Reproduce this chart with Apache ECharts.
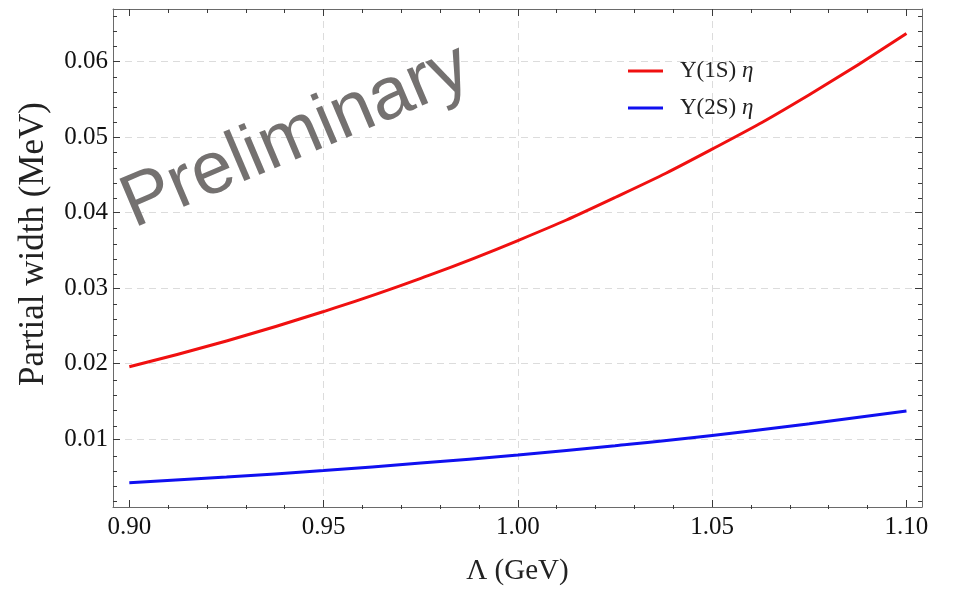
<!DOCTYPE html>
<html>
<head>
<meta charset="utf-8">
<script src="https://cdn.jsdelivr.net/npm/echarts@6/dist/echarts.min.js"></script>
<style>
  html, body { margin: 0; padding: 0; background: #fff; }
  #chart { width: 954px; height: 591px; }
</style>
</head>
<body>
<div id="chart"></div>
<script>
// Cutoff parameter Λ (GeV)
const lambdaGeV = [0.900, 0.925, 0.950, 0.975, 1.000, 1.025, 1.050, 1.075, 1.100];
// Partial widths (MeV)
const width1S = [0.0196, 0.0230, 0.0269, 0.0313, 0.0363, 0.0420, 0.0484, 0.0556, 0.0637];
const width2S = [0.00423, 0.00500, 0.00585, 0.00684, 0.00792, 0.00914, 0.01050, 0.01204, 0.01374];

const seriesNames = ['Υ(1S) η', 'Υ(2S) η'];

// Axis ticks
const xMajorTicks = [0.90, 0.95, 1.00, 1.05, 1.10];
const xMinorTicks = [0.91, 0.92, 0.93, 0.94, 0.96, 0.97, 0.98, 0.99, 1.01, 1.02, 1.03, 1.04, 1.06, 1.07, 1.08, 1.09];
const xGridLines = [0.95, 1.00, 1.05];
const yMajorTicks = [0.01, 0.02, 0.03, 0.04, 0.05, 0.06];
const yMinorTicks = [0.002, 0.004, 0.006, 0.008, 0.012, 0.014, 0.016, 0.018, 0.022, 0.024, 0.026, 0.028,
  0.032, 0.034, 0.036, 0.038, 0.042, 0.044, 0.046, 0.048, 0.052, 0.054, 0.056, 0.058, 0.062, 0.064, 0.066];

const xRange = [0.8958, 1.1040];
const yRange = [0.00103, 0.06695];

const serif = '"Liberation Serif", "DejaVu Serif", serif';
const frameColor = '#6a6a6a';
const tickColor = '#3a3a3a';
const red = '#f01010';
const blue = '#1010f0';

const plotRect = { left: 113, top: 9, right: 32, bottom: 82 };

function toPairs(xs, ys) { return xs.map((x, i) => [x, ys[i]]); }

// one layer of ticks on one side of the frame
function tickAxis(kind, gridIndex, position, values, len, extra) {
  const range = kind === 'x' ? xRange : yRange;
  return Object.assign({
    type: 'value', gridIndex, position, min: range[0], max: range[1],
    axisLine: { show: false },
    axisTick: { show: values.length > 0, inside: true, length: len, customValues: values,
      lineStyle: { color: tickColor, width: 1 } },
    axisLabel: { show: false },
    splitLine: { show: false }
  }, extra || {});
}

const chart = echarts.init(document.getElementById('chart'), null, { renderer: 'canvas' });

const option = {
  animation: false,
  backgroundColor: '#fff',
  grid: [
    Object.assign({}, plotRect),
    Object.assign({}, plotRect),
    Object.assign({}, plotRect)
  ],
  xAxis: [
    tickAxis('x', 0, 'bottom', xMajorTicks, 7, {
      axisLine: { show: true, lineStyle: { color: frameColor, width: 1 } },
      axisLabel: { show: true, customValues: xMajorTicks, margin: 8,
        formatter: v => v.toFixed(2), color: '#111', fontFamily: serif, fontSize: 25 },
      name: 'Λ (GeV)', nameLocation: 'middle', nameGap: 50,
      nameTextStyle: { fontFamily: serif, fontSize: 29, color: '#222' }
    }),
    tickAxis('x', 0, 'top', xMajorTicks, 7, {
      axisLine: { show: true, lineStyle: { color: frameColor, width: 1 } }
    }),
    tickAxis('x', 1, 'bottom', xMinorTicks, 4),
    tickAxis('x', 1, 'top', xMinorTicks, 4),
    tickAxis('x', 2, 'bottom', xGridLines, 0, {
      axisTick: { show: false, customValues: xGridLines },
      splitLine: { show: true, lineStyle: { color: '#dcdcdc', type: [7, 5], width: 1 } }
    })
  ],
  yAxis: [
    tickAxis('y', 0, 'left', yMajorTicks, 7, {
      axisLine: { show: true, lineStyle: { color: frameColor, width: 1 } },
      axisLabel: { show: true, customValues: yMajorTicks, margin: 5,
        formatter: v => v.toFixed(2), color: '#111', fontFamily: serif, fontSize: 25 },
      splitLine: { show: true, lineStyle: { color: '#dcdcdc', type: [7, 5], width: 1 } },
      name: 'Partial width (MeV)', nameLocation: 'middle', nameGap: 62, nameRotate: 90,
      nameTextStyle: { fontFamily: serif, fontSize: 35, color: '#222', padding: [0, 0, 0, 28] }
    }),
    tickAxis('y', 0, 'right', yMajorTicks, 7, {
      axisLine: { show: true, lineStyle: { color: frameColor, width: 1 } }
    }),
    tickAxis('y', 1, 'left', yMinorTicks, 4),
    tickAxis('y', 1, 'right', yMinorTicks, 4),
    tickAxis('y', 2, 'left', [], 0)
  ],
  legend: {
    orient: 'vertical',
    left: 623, top: 54,
    itemWidth: 35, itemHeight: 3, itemGap: 13,
    icon: 'rect',
    data: seriesNames.map((n, i) => ({
      name: n,
      itemStyle: { color: i === 0 ? red : blue }
    })),
    formatter: n => n.replace('η', '{it|η}'),
    textStyle: {
      fontFamily: serif, fontSize: 23, color: '#222', lineHeight: 24, padding: [0, 0, 0, 12],
      rich: { it: { fontFamily: serif, fontSize: 23, lineHeight: 24, fontStyle: 'italic', color: '#222' } }
    }
  },
  graphic: [{
    type: 'text',
    x: 296, y: 137,
    rotation: 23 * Math.PI / 180,
    z: 10,
    style: {
      text: 'Preliminary',
      fontFamily: '"Liberation Sans", Arial, sans-serif',
      fontSize: 74,
      fill: '#747170',
      align: 'center',
      verticalAlign: 'middle'
    }
  }],
  series: [
    {
      name: seriesNames[0], type: 'line', xAxisIndex: 0, yAxisIndex: 0,
      data: toPairs(lambdaGeV, width1S), smooth: 0.5,
      showSymbol: false, symbol: 'none',
      lineStyle: { color: red, width: 3 }, itemStyle: { color: red }
    },
    {
      name: seriesNames[1], type: 'line', xAxisIndex: 0, yAxisIndex: 0,
      data: toPairs(lambdaGeV, width2S), smooth: 0.5,
      showSymbol: false, symbol: 'none',
      lineStyle: { color: blue, width: 3 }, itemStyle: { color: blue }
    }
  ]
};

chart.setOption(option);
</script>
</body>
</html>
